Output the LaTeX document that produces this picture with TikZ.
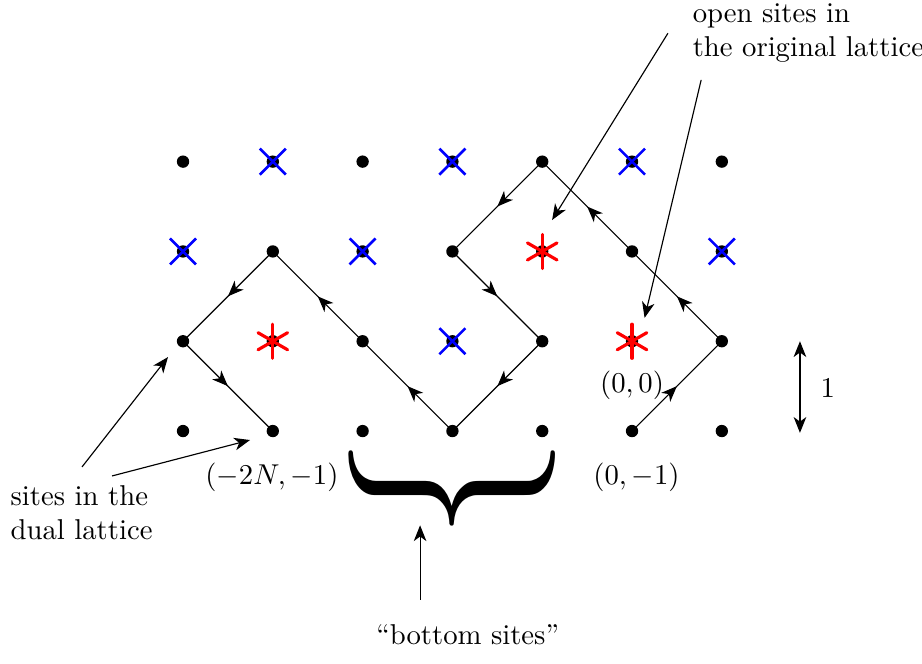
\documentclass[tikz,border=0pt]{standalone}
\usetikzlibrary{arrows.meta,decorations.markings}
\begin{document}
\begin{tikzpicture}[x=1.1cm,y=1.1cm,
  site/.style={circle,fill=black,inner sep=0pt,minimum size=4.3pt},
  bluex/.style={draw=blue,line width=0.9pt},
  redstar/.style={draw=red,line width=1.1pt,line cap=round},
  midarrow/.style={postaction={decorate},decoration={markings,mark=at position 0.5 with {\arrow{Stealth[length=5.5pt,width=4.4pt,inset=1.6pt]}}}},
  pointer/.style={-{Stealth[length=5.5pt,width=4.4pt,inset=1.6pt]}},
  lbl/.style={inner sep=0pt}]
\useasboundingbox (-2.038,-2.583) rectangle (8.229,4.80);
% sites
\foreach \c in {0,...,6} {
  \foreach \r in {0,...,3} {
    \node[site] (s\c\r) at (\c,\r) {};
  }
}
% blue crosses
\foreach \p in {13,33,53,02,22,62,31} {
  \draw[bluex] (s\p.center) +(-0.145,-0.145) -- +(0.145,0.145);
  \draw[bluex] (s\p.center) +(-0.145,0.145) -- +(0.145,-0.145);
}
% red stars
\foreach \p in {42,11,51} {
  \foreach \a in {90,30,150} {
    \draw[redstar] (s\p.center) +(\a:0.19) -- +(\a+180:0.19);
  }
}
% path
\foreach \a/\b in {50/61,61/52,52/43,43/32,32/41,41/30,30/21,21/12,12/01,01/10} {
  \draw[midarrow] (s\a.center) -- (s\b.center);
}
% labels
\node[lbl] (l00) at (5.0,0.51) {$(0,0)$};
\node[lbl] (l2N) at (0.99,-0.52) {$(-2N,-1)$};
\node[lbl] (l01) at (5.05,-0.52) {$(0,-1)$};
% unit
\coordinate (u1) at (6.87,1.0);
\coordinate (u0) at (6.87,-0.02);
\draw[{Stealth[length=5.5pt,width=4.4pt,inset=1.6pt]}-{Stealth[length=5.5pt,width=4.4pt,inset=1.6pt]}] (u1) -- (u0);
\node[lbl] (one) at (7.18,0.48) {$1$};
% brace
\node[inner sep=0pt] (brace) at (3.0,-0.64) {\resizebox*{72pt}{37pt}{\rotatebox[origin=c]{-90}{$\}$}}};
\node[lbl] (bottom) at (3.17,-2.27) {``bottom sites''};
\coordinate (bs) at (2.64,-1.88);
\coordinate (bt) at (2.64,-1.05);
\draw[pointer] (bs) -- (bt);
% dual lattice
\node[lbl,anchor=west,align=left] (dual) at (-1.926,-0.91) {sites in the\\dual lattice};
\coordinate (d1) at (-1.125,-0.40);
\coordinate (d1e) at (-0.167,0.824);
\coordinate (d2) at (-0.79,-0.50);
\coordinate (d2e) at (0.746,-0.10);
\draw[pointer] (d1) -- (d1e);
\draw[pointer] (d2) -- (d2e);
% original lattice
\node[lbl,anchor=west,align=left] (orig) at (5.67,4.43) {open sites in\\the original lattice};
\coordinate (o1) at (5.40,4.43);
\coordinate (o1e) at (4.11,2.35);
\coordinate (o2) at (5.77,3.91);
\coordinate (o2e) at (5.14,1.26);
\draw[pointer] (o1) -- (o1e);
\draw[pointer] (o2) -- (o2e);
\end{tikzpicture}
\end{document}
